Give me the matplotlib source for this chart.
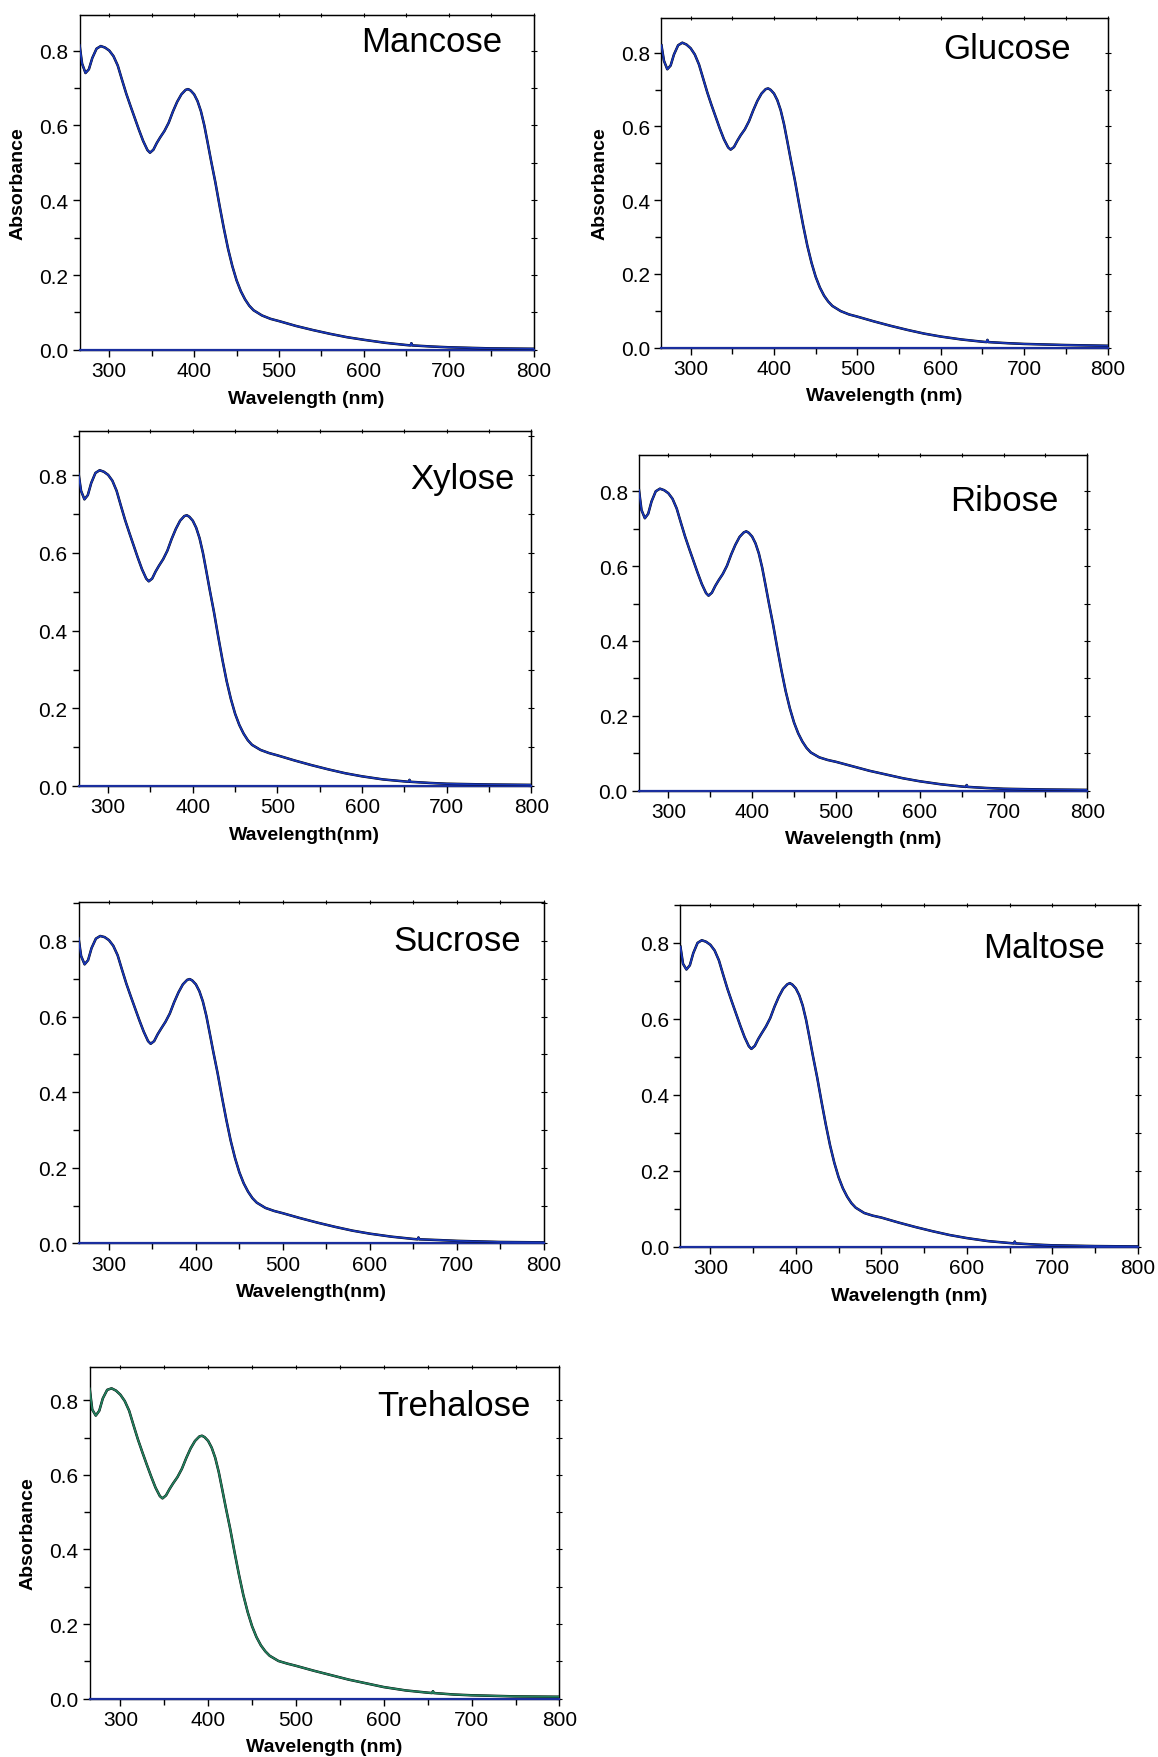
"""
    UV-vis absorption spectra of the probe with different sugars.
"""
import numpy as np
import matplotlib
matplotlib.use("Agg")
import matplotlib.pyplot as plt
from matplotlib.ticker import MultipleLocator

plt.rcParams["font.family"] = ["Liberation Sans", "DejaVu Sans"]

# Wavelength grid (nm) shared by all spectra
wl = [265, 268, 272, 276, 280, 285, 290, 295, 300, 305,
      310, 315, 320, 325, 330, 335, 340, 345, 348, 352,
      356, 360, 365, 370, 375, 380, 385, 390, 393, 396,
      400, 404, 408, 412, 416, 420, 425, 430, 435, 440,
      445, 450, 455, 460, 465, 470, 480, 490, 500, 520,
      540, 560, 580, 600, 625, 650, 655, 656, 657, 680,
      700, 750, 800]

# Absorbance
mancose = [0.815, 0.765, 0.740, 0.750, 0.780, 0.805, 0.812, 0.808, 0.800, 0.785,
           0.760, 0.722, 0.685, 0.652, 0.620, 0.588, 0.558, 0.534, 0.527, 0.535,
           0.553, 0.568, 0.585, 0.607, 0.637, 0.663, 0.683, 0.695, 0.697, 0.693,
           0.683, 0.665, 0.638, 0.600, 0.553, 0.505, 0.448, 0.385, 0.325, 0.270,
           0.224, 0.186, 0.157, 0.135, 0.118, 0.106, 0.092, 0.083, 0.077, 0.064,
           0.053, 0.043, 0.034, 0.027, 0.019, 0.013, 0.012, 0.018, 0.012, 0.009,
           0.007, 0.004, 0.003]
glucose = [0.820, 0.778, 0.755, 0.765, 0.795, 0.820, 0.827, 0.822, 0.812, 0.795,
           0.768, 0.730, 0.692, 0.658, 0.626, 0.594, 0.565, 0.543, 0.537, 0.544,
           0.561, 0.576, 0.592, 0.614, 0.643, 0.669, 0.689, 0.701, 0.703, 0.699,
           0.689, 0.671, 0.644, 0.606, 0.559, 0.511, 0.454, 0.391, 0.331, 0.276,
           0.230, 0.192, 0.163, 0.141, 0.125, 0.113, 0.099, 0.090, 0.084, 0.071,
           0.059, 0.048, 0.038, 0.030, 0.022, 0.016, 0.015, 0.021, 0.015, 0.012,
           0.010, 0.007, 0.005]
xylose = [0.805, 0.760, 0.738, 0.749, 0.780, 0.806, 0.813, 0.809, 0.801, 0.786,
          0.760, 0.722, 0.685, 0.652, 0.620, 0.588, 0.558, 0.534, 0.527, 0.534,
          0.552, 0.567, 0.584, 0.606, 0.636, 0.662, 0.683, 0.695, 0.697, 0.693,
          0.683, 0.665, 0.638, 0.600, 0.553, 0.505, 0.448, 0.385, 0.325, 0.270,
          0.224, 0.186, 0.157, 0.135, 0.118, 0.106, 0.093, 0.085, 0.079, 0.066,
          0.054, 0.043, 0.033, 0.025, 0.017, 0.012, 0.011, 0.016, 0.011, 0.008,
          0.006, 0.004, 0.003]
ribose = [0.803, 0.750, 0.728, 0.740, 0.773, 0.800, 0.807, 0.803, 0.795, 0.780,
          0.754, 0.716, 0.679, 0.646, 0.614, 0.582, 0.552, 0.528, 0.521, 0.529,
          0.547, 0.562, 0.579, 0.601, 0.631, 0.657, 0.678, 0.690, 0.693, 0.689,
          0.679, 0.661, 0.634, 0.596, 0.549, 0.501, 0.444, 0.381, 0.321, 0.266,
          0.220, 0.182, 0.153, 0.131, 0.114, 0.102, 0.089, 0.082, 0.077, 0.065,
          0.053, 0.043, 0.033, 0.025, 0.017, 0.011, 0.010, 0.015, 0.010, 0.007,
          0.005, 0.003, 0.002]
sucrose = [0.808, 0.760, 0.738, 0.749, 0.781, 0.806, 0.813, 0.810, 0.802, 0.787,
           0.762, 0.724, 0.687, 0.654, 0.622, 0.590, 0.560, 0.535, 0.528, 0.535,
           0.553, 0.568, 0.586, 0.608, 0.638, 0.664, 0.685, 0.697, 0.699, 0.695,
           0.685, 0.667, 0.640, 0.602, 0.555, 0.507, 0.450, 0.387, 0.327, 0.272,
           0.226, 0.188, 0.159, 0.137, 0.120, 0.108, 0.094, 0.086, 0.080, 0.067,
           0.055, 0.044, 0.034, 0.026, 0.018, 0.012, 0.011, 0.016, 0.011, 0.009,
           0.007, 0.004, 0.003]
maltose = [0.790, 0.745, 0.730, 0.741, 0.773, 0.800, 0.807, 0.803, 0.795, 0.780,
           0.754, 0.716, 0.679, 0.646, 0.614, 0.582, 0.552, 0.528, 0.521, 0.529,
           0.547, 0.562, 0.580, 0.602, 0.632, 0.658, 0.679, 0.691, 0.694, 0.690,
           0.680, 0.662, 0.635, 0.597, 0.550, 0.502, 0.445, 0.382, 0.322, 0.267,
           0.221, 0.183, 0.154, 0.132, 0.115, 0.103, 0.089, 0.082, 0.077, 0.064,
           0.052, 0.041, 0.031, 0.023, 0.015, 0.010, 0.009, 0.014, 0.009, 0.006,
           0.004, 0.002, 0.001]
trehalose = [0.832, 0.775, 0.759, 0.772, 0.805, 0.828, 0.832, 0.826, 0.815, 0.798,
             0.772, 0.733, 0.695, 0.661, 0.628, 0.596, 0.566, 0.543, 0.537, 0.545,
             0.562, 0.577, 0.594, 0.616, 0.645, 0.671, 0.691, 0.703, 0.705, 0.701,
             0.691, 0.673, 0.646, 0.608, 0.561, 0.513, 0.456, 0.393, 0.333, 0.278,
             0.232, 0.194, 0.165, 0.143, 0.127, 0.115, 0.101, 0.094, 0.088, 0.075,
             0.063, 0.051, 0.041, 0.031, 0.022, 0.016, 0.015, 0.020, 0.015, 0.011,
             0.009, 0.006, 0.005]

names = ["Mancose", "Glucose", "Xylose", "Ribose", "Sucrose", "Maltose", "Trehalose"]
spectra = [mancose, glucose, xylose, ribose, sucrose, maltose, trehalose]

# Layout: [left, bottom, width, height] in figure fraction
boxes = [[0.0687, 0.8004, 0.3921, 0.1907],
         [0.5712, 0.8017, 0.3852, 0.1875],
         [0.0678, 0.5523, 0.3911, 0.2022],
         [0.5518, 0.5497, 0.3872, 0.1907],
         [0.0678, 0.2921, 0.4017, 0.1945],
         [0.5876, 0.2902, 0.3950, 0.1945],
         [0.0774, 0.0332, 0.4057, 0.1888]]
ytops = [0.896, 0.894, 0.915, 0.896, 0.904, 0.90, 0.89]
title_pos = [(0.931, 0.920), (0.917, 0.908), (0.963, 0.864), (0.935, 0.866),
             (0.952, 0.885), (0.929, 0.875), (0.938, 0.882)]
show_ylabel = [True, True, False, False, False, False, True]
xlabels = ["Wavelength (nm)", "Wavelength (nm)", "Wavelength(nm)", "Wavelength (nm)",
           "Wavelength(nm)", "Wavelength (nm)", "Wavelength (nm)"]
colors = ["#1836b8"] * 6 + ["#23805e"]

fig = plt.figure(figsize=(11.58, 17.58), dpi=100)

for i, name in enumerate(names):
    ax = fig.add_axes(boxes[i])
    y = np.array(spectra[i])
    # baseline
    ax.plot([wl[0], wl[-1]], [0, 0], color="#1a2e9e", lw=1.6, zorder=3, clip_on=False)
    ax.plot(wl, y, color="black", lw=1.8, zorder=4)
    ax.plot(wl, y, color=colors[i], lw=1.3, zorder=5)
    ax.set_xlim(265, 800)
    ax.set_ylim(0, ytops[i])
    for axis, maj, mnr in [(ax.xaxis, 100, 50), (ax.yaxis, 0.2, 0.1)]:
        axis.set_major_locator(MultipleLocator(maj))
        axis.set_minor_locator(MultipleLocator(mnr))
    ax.tick_params(axis="both", which="major", direction="out", length=5,
                   width=1, labelsize=15, pad=3)
    ax.tick_params(axis="both", which="minor", direction="out", length=4, width=1)
    for s in ax.spines.values():
        s.set_linewidth(1.0)
    ax.yaxis.set_major_formatter(plt.FuncFormatter(lambda v, p: "%.1f" % v))

    # small crossing ticks on top and right, as in Origin
    top = ax.secondary_xaxis("top")
    top.xaxis.set_major_locator(MultipleLocator(100))
    top.xaxis.set_minor_locator(MultipleLocator(50))
    top.tick_params(which="both", direction="inout", length=3, width=0.8,
                    labeltop=False)
    right = ax.secondary_yaxis("right")
    right.yaxis.set_major_locator(MultipleLocator(0.2))
    right.yaxis.set_minor_locator(MultipleLocator(0.1))
    right.tick_params(which="both", direction="inout", length=4, width=0.8,
                      labelright=False)

    ax.set_xlabel(xlabels[i], fontsize=14, fontweight="bold", labelpad=7)
    if show_ylabel[i]:
        ax.set_ylabel("Absorbance", fontsize=14, fontweight="bold", labelpad=9)
    tx, ty = title_pos[i]
    ax.text(tx, ty, name, transform=ax.transAxes, ha="right", va="center",
            fontsize=25)

fig.savefig("out.png", dpi=100)
